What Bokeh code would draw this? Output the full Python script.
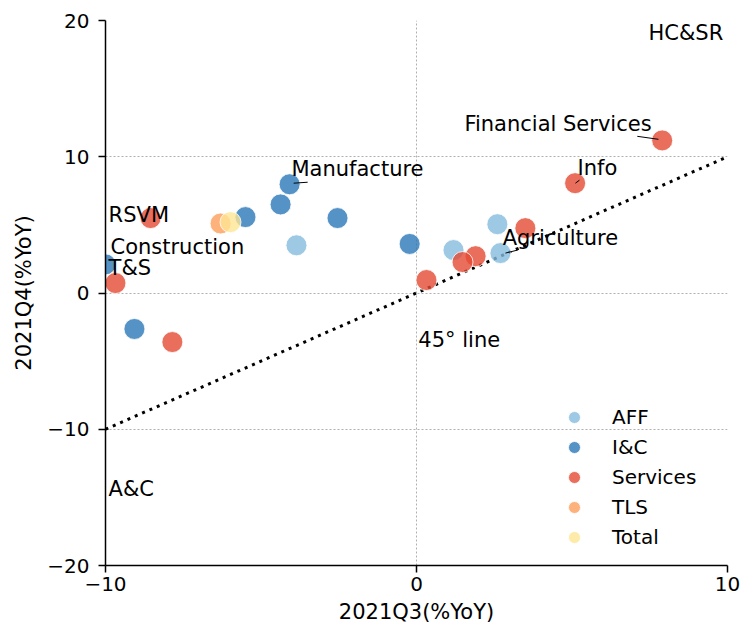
from bokeh.plotting import figure
from bokeh.models import ColumnDataSource, FixedTicker, Legend, LegendItem
from bokeh.core.properties import value
from bokeh.embed import file_html
from bokeh.resources import INLINE

# ---- data ----
aff_x = [-3.86, 1.19, 2.6, 2.7]
aff_y = [3.5, 3.15, 5.05, 2.93]
ic_x = [-10.0, -9.07, -5.5, -4.37, -4.08, -2.54, -0.22]
ic_y = [2.1, -2.64, 5.57, 6.5, 7.98, 5.5, 3.6]
srv_x = [-9.68, -8.55, -7.85, 0.32, 1.9, 1.48, 3.5, 5.1, 7.9]
srv_y = [0.73, 5.5, -3.6, 0.95, 2.7, 2.27, 4.76, 8.06, 11.2]
tls_x = [-6.3]
tls_y = [5.1]
tot_x = [-5.98]
tot_y = [5.2]

label_text = ["HC&SR", "Financial Services", "Info", "Manufacture", "RSVM",
              "Construction", "T&S", "Agriculture", "A&C", "45° line"]
label_x = [7.46, 1.54, 5.18, -4.02, -9.9, -9.84, -9.9, 2.77, -9.9, 0.06]
label_y = [19.1, 12.4, 9.16, 9.08, 5.7, 3.37, 1.83, 4.03, -14.4, -3.44]

conn_x0 = [7.1, 5.11, -3.95, 2.86]
conn_y0 = [11.5, 8.06, 8.06, 2.93]
conn_x1 = [7.78, 5.24, -3.5, 3.25]
conn_y1 = [11.28, 8.28, 8.13, 3.15]

diag_x = [-10, 10]
diag_y = [-10, 10]

x_ticks = [-10, 0, 10]
y_ticks = [-20, -10, 0, 10, 20]

FONT = "DejaVu Sans"

p = figure(width=747, height=626, x_range=(-10, 10), y_range=(-20, 20),
           output_backend="svg", toolbar_location=None,
           min_border_left=105, min_border_right=20, min_border_top=20,
           min_border_bottom=60)
p.outline_line_color = None

# grid
for g in (p.xgrid, p.ygrid):
    g.grid_line_color = "#b0b0b0"
    g.grid_line_dash = "2 2"
    g.grid_line_width = 1
p.xgrid.ticker = FixedTicker(ticks=x_ticks)
p.ygrid.ticker = FixedTicker(ticks=y_ticks)

# axes
p.xaxis.ticker = FixedTicker(ticks=x_ticks)
p.yaxis.ticker = FixedTicker(ticks=y_ticks)
p.xaxis.major_label_overrides = {t: str(t).replace("-", "\u2212") for t in x_ticks}
p.yaxis.major_label_overrides = {t: str(t).replace("-", "\u2212") for t in y_ticks}
p.xaxis.axis_label = "2021Q3(%YoY)"
p.yaxis.axis_label = "2021Q4(%YoY)"
for ax in (p.xaxis, p.yaxis):
    ax.axis_line_color = "black"
    ax.axis_line_width = 1.5
    ax.major_tick_line_color = "black"
    ax.major_tick_line_width = 1.5
    ax.major_tick_out = 7
    ax.major_tick_in = 0
    ax.minor_tick_line_color = None
    ax.major_label_text_font = FONT
    ax.major_label_text_font_size = "20px"
    ax.major_label_text_color = "black"
    ax.axis_label_text_font = FONT
    ax.axis_label_text_font_size = "21px"
    ax.axis_label_text_font_style = "normal"
    ax.axis_label_text_color = "black"
p.xaxis.major_label_standoff = 4
p.yaxis.major_label_standoff = 9
p.xaxis.axis_label_standoff = 6
p.yaxis.axis_label_standoff = 8

# 45 degree line
p.line(diag_x, diag_y, line_color="black", line_width=3, line_dash="3 5")

# points
series = [
    ("AFF", aff_x, aff_y, "#84bbde"),
    ("I&C", ic_x, ic_y, "#2a78b8"),
    ("Services", srv_x, srv_y, "#e34a33"),
    ("TLS", tls_x, tls_y, "#fc9f5b"),
    ("Total", tot_x, tot_y, "#fee593"),
]
items = []
for name, xs, ys, col in series:
    r = p.scatter(xs, ys, size=21, fill_color=col, fill_alpha=0.8,
                  line_color="white", line_width=1, line_alpha=0.8)
    items.append(LegendItem(label=name, renderers=[r]))

# connectors
p.segment(conn_x0, conn_y0, conn_x1, conn_y1, line_color="black", line_width=1)

# labels
src = ColumnDataSource(dict(x=label_x, y=label_y, t=label_text))
p.text("x", "y", text="t", source=src, text_font=value(FONT),
       text_font_size="21px", text_color="black",
       text_align="left", text_baseline="middle")

legend = Legend(items=items, location=(451, 13), border_line_color=None,
                background_fill_alpha=0, padding=0, margin=0,
                glyph_width=36, glyph_height=30, label_height=30,
                spacing=0, label_standoff=20,
                label_text_font=FONT, label_text_font_size="20px",
                label_text_color="black")
p.add_layout(legend, "center")

open("out.html", "w").write(file_html(p, INLINE))
